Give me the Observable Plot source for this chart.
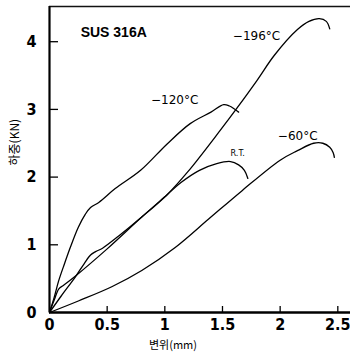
<!DOCTYPE html>
<html>
<head>
<meta charset="utf-8">
<script src="https://cdn.jsdelivr.net/npm/d3@7"></script>
<script src="https://cdn.jsdelivr.net/npm/@observablehq/plot@0.6"></script>
<style>
  html, body { margin: 0; padding: 0; background: #fff; }
  #chart { width: 350px; height: 354px; }
</style>
</head>
<body>
<div id="chart"></div>
<script>
// ---- data ----
const xTicks = [0, 0.5, 1, 1.5, 2, 2.5];
const yTicks = [0, 1, 2, 3, 4];
const xTickLabels = ["0", "0.5", "1", "1.5", "2", "2.5"];
const yTickLabels = ["0", "1", "2", "3", "4"];
const xTitle = "변위(mm)";
const yTitle = "하중(KN)";
const specimen = "SUS 316A";

const series = ["−196°C", "−120°C", "−60°C", "R.T."];

const x196 = [0, 0.1, 0.226, 0.3, 0.356, 0.40, 0.46, 0.6, 0.8, 1.02, 1.2, 1.48, 1.63, 1.8, 1.95, 2.15, 2.25, 2.34, 2.40, 2.43];
const y196 = [0, 0.24, 0.53, 0.72, 0.85, 0.90, 0.95, 1.13, 1.41, 1.74, 2.08, 2.69, 3.03, 3.43, 3.80, 4.18, 4.30, 4.34, 4.30, 4.19];

const x120 = [0, 0.04, 0.08, 0.13, 0.18, 0.25, 0.31, 0.356, 0.43, 0.57, 0.79, 1.02, 1.22, 1.40, 1.51, 1.56, 1.60, 1.64];
const y120 = [0, 0.22, 0.47, 0.72, 0.96, 1.26, 1.45, 1.55, 1.63, 1.83, 2.10, 2.49, 2.79, 2.96, 3.07, 3.05, 3.01, 2.96];

const x60 = [0, 0.25, 0.54, 0.8, 1.09, 1.38, 1.67, 2.0, 2.15, 2.29, 2.37, 2.43, 2.46, 2.47];
const y60 = [0, 0.17, 0.38, 0.62, 0.96, 1.38, 1.80, 2.25, 2.39, 2.50, 2.50, 2.44, 2.36, 2.29];

const xRT = [0, 0.04, 0.081, 0.12, 0.226, 0.5, 0.8, 1.02, 1.14, 1.3, 1.45, 1.57, 1.64, 1.69, 1.72];
const yRT = [0, 0.18, 0.35, 0.40, 0.54, 0.94, 1.41, 1.74, 1.92, 2.10, 2.20, 2.23, 2.18, 2.10, 1.98];

// label anchors in data units
const labelText = [specimen, "−196°C", "−120°C", "R.T.", "−60°C"];
const labelX = [0.27, 1.59, 0.88, 1.57, 1.98];
const labelY = [4.14, 4.08, 3.13, 2.36, 2.60];

// ---- build tables ----
const rows = [];
[[series[0], x196, y196], [series[1], x120, y120], [series[2], x60, y60], [series[3], xRT, yRT]]
  .forEach(([s, xs, ys]) => xs.forEach((x, i) => rows.push({s, x, y: ys[i]})));
const labels = labelText.map((t, i) => ({t, x: labelX[i], y: labelY[i], big: i === 0}));

const W = 350, H = 354;
const mL = 49, mR = 0, mT = 6, mB = 42;
const plotW = W - mL - mR, plotH = H - mT - mB;
const xMax = 2.61, yMax = 4.52;
const tickFont = "'DejaVu Sans Condensed', 'Liberation Sans Narrow', sans-serif";

const chart = Plot.plot({
  width: W, height: H,
  marginLeft: mL, marginRight: mR, marginTop: mT, marginBottom: mB,
  style: {background: "#fff", color: "#000", overflow: "visible"},
  x: {domain: [0, xMax]},
  y: {domain: [0, yMax]},
  marks: [
    // frame
    Plot.ruleY([yMax], {stroke: "#111", strokeWidth: 1.5}),
    Plot.ruleY([0], {stroke: "#000", strokeWidth: 2.5}),
    Plot.ruleX([0], {stroke: "#000", strokeWidth: 2.2}),
    // inward ticks
    Plot.tickX(xTicks.slice(1), {x: d => d, insetTop: plotH - 6, stroke: "#000", strokeWidth: 1.3}),
    Plot.tickY(yTicks.slice(1), {y: d => d, insetRight: plotW - 9, stroke: "#000", strokeWidth: 1.3}),
    // tick labels
    Plot.axisX({ticks: xTicks, tickFormat: (d) => xTickLabels[xTicks.indexOf(d)], tickSize: 0, tickPadding: 6,
      label: null, fontSize: 16, fontWeight: "bold", fontFamily: tickFont, letterSpacing: "2px"}),
    Plot.axisY({ticks: yTicks, tickFormat: (d) => yTickLabels[yTicks.indexOf(d)], tickSize: 0, tickPadding: 13,
      label: null, fontSize: 16, fontWeight: "bold", fontFamily: tickFont}),
    // curves
    Plot.line(rows, {x: "x", y: "y", z: "s", curve: "catmull-rom", stroke: "#000", strokeWidth: 1.3}),
    // labels
    Plot.text(labels.filter(d => d.big), {x: "x", y: "y", text: "t", textAnchor: "start", fontSize: 14,
      fontWeight: "bold", fontFamily: "'Liberation Sans', Arial, sans-serif", letterSpacing: "2px"}),
    Plot.text(labels.filter(d => !d.big && d.t !== "R.T."), {x: "x", y: "y", text: "t", textAnchor: "start", fontSize: 12,
      fontFamily: "'DejaVu Sans', sans-serif", letterSpacing: "2px"}),
    Plot.text(labels.filter(d => d.t === "R.T."), {x: "x", y: "y", text: "t", textAnchor: "start", fontSize: 9,
      fontFamily: "'DejaVu Sans Condensed', sans-serif", letterSpacing: "1px"}),
    // axis titles
    Plot.text([xTitle], {frameAnchor: "bottom", text: d => d, dx: -27, dy: 36, fontSize: 11,
      fontFamily: "'Noto Sans CJK KR', sans-serif", fill: "#000"}),
    Plot.text([yTitle], {frameAnchor: "left", text: d => d, rotate: -90, dx: -34, dy: 6, fontSize: 12,
      fontFamily: "'Noto Sans CJK KR', sans-serif", fill: "#000"})
  ]
});
document.getElementById("chart").appendChild(chart);
</script>
</body>
</html>
